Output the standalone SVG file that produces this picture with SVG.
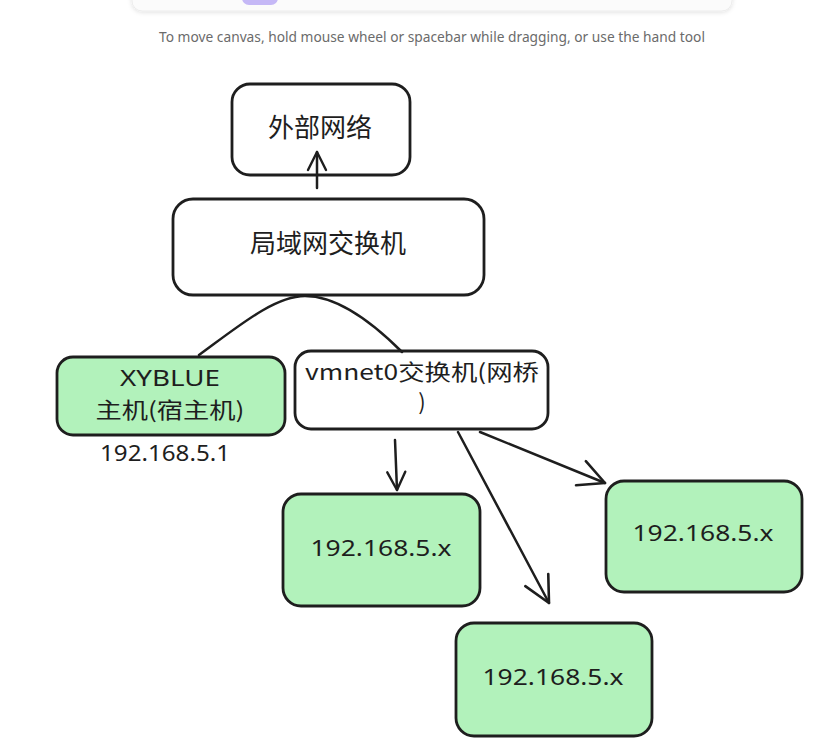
<svg xmlns="http://www.w3.org/2000/svg" width="832" height="741" viewBox="0 0 832 741">
  <defs>
    <filter id="toolbarShadow" x="-10%" y="-100%" width="120%" height="300%">
      <feDropShadow dx="0" dy="1" stdDeviation="2" flood-color="#000" flood-opacity="0.12"/>
    </filter>
    <marker id="arrowOpen" viewBox="0 0 22 22" refX="20" refY="11" markerWidth="22" markerHeight="22" markerUnits="userSpaceOnUse" orient="auto">
      <path d="M2,2 L20,11 L2,20" fill="none" stroke="#1e1e1e" stroke-width="2.4" stroke-linecap="round" stroke-linejoin="round"/>
    </marker>
    <marker id="arrowOpenLg" viewBox="0 0 30 30" refX="28" refY="15" markerWidth="30" markerHeight="30" markerUnits="userSpaceOnUse" orient="auto">
      <path d="M2,2 L28,15 L2,28" fill="none" stroke="#1e1e1e" stroke-width="2.6" stroke-linecap="round" stroke-linejoin="round"/>
    </marker>
  </defs>
  <style>
    .node { stroke: #1e1e1e; stroke-width: 2.8; }
    .plain { fill: #ffffff; }
    .green { fill: #b2f2bb; }
    .label { font-family: "Noto Sans", "Noto Sans CJK SC", sans-serif; fill: #1e1e1e; text-anchor: middle; }
    .cjk { font-family: "Noto Sans CJK SC", "Noto Sans", sans-serif; fill: #1e1e1e; text-anchor: middle; }
    .edge { fill: none; stroke: #1e1e1e; stroke-width: 2.5; stroke-linecap: round; }
    .hint { font-family: "Noto Sans", "Liberation Sans", sans-serif; font-size: 13.5px; fill: #6b6b6b; text-anchor: middle; }
  </style>

  <rect width="832" height="741" fill="#ffffff"/>

  <!-- editor toolbar and canvas hint -->
  <g id="toolbar">
    <rect x="132" y="-20" width="600" height="31" rx="10" fill="#fbfbfb" stroke="#ececec" stroke-width="1" filter="url(#toolbarShadow)"/>
    <rect x="242" y="-12" width="36" height="17" rx="7" fill="#c5b8f6"/>
  </g>
  <text class="hint" x="432" y="42" textLength="546" lengthAdjust="spacingAndGlyphs">To move canvas, hold mouse wheel or spacebar while dragging, or use the hand tool</text>

  <!-- nodes -->
  <g id="external-network">
    <rect class="node plain" x="232" y="84" width="178" height="91" rx="18"/>
    <text class="cjk" x="320" y="137" font-size="26">外部网络</text>
  </g>

  <g id="lan-switch">
    <rect class="node plain" x="173" y="199" width="311" height="96" rx="20"/>
    <text class="cjk" x="328" y="253" font-size="26">局域网交换机</text>
  </g>

  <g id="host-xyblue">
    <rect class="node green" x="57" y="357" width="228" height="78" rx="16"/>
    <text class="label" x="170" y="386" font-size="21" textLength="100" lengthAdjust="spacingAndGlyphs">XYBLUE</text>
    <text class="cjk" x="170" y="418" font-size="22" textLength="149" lengthAdjust="spacingAndGlyphs">主机(宿主机)</text>
    <text class="label" x="165" y="461" font-size="21" textLength="130" lengthAdjust="spacingAndGlyphs">192.168.5.1</text>
  </g>

  <g id="vmnet0-bridge">
    <rect class="node plain" x="295" y="351" width="253" height="78" rx="16"/>
    <text class="cjk" x="422" y="380" font-size="22" textLength="234" lengthAdjust="spacingAndGlyphs">vmnet0交换机(网桥</text>
    <text class="cjk" x="422" y="410" font-size="22">)</text>
  </g>

  <g id="guest-a">
    <rect class="node green" x="283" y="494" width="197" height="112" rx="18"/>
    <text class="label" x="381" y="556" font-size="21" textLength="141" lengthAdjust="spacingAndGlyphs">192.168.5.x</text>
  </g>

  <g id="guest-b">
    <rect class="node green" x="456" y="623" width="196" height="113" rx="18"/>
    <text class="label" x="553" y="685" font-size="21" textLength="141" lengthAdjust="spacingAndGlyphs">192.168.5.x</text>
  </g>

  <g id="guest-c">
    <rect class="node green" x="606" y="481" width="196" height="111" rx="18"/>
    <text class="label" x="703" y="541" font-size="21" textLength="141" lengthAdjust="spacingAndGlyphs">192.168.5.x</text>
  </g>

  <!-- connectors (drawn last so the uplink arrow overlaps the box edge) -->
  <g id="connectors">
    <path class="edge" d="M317,188 L317,152" marker-end="url(#arrowOpen)"/>
    <path class="edge" d="M199,355 C240,325 275,296 305,296 C335,296 370,320 402,352"/>
    <path class="edge" d="M395,440 L397,490" marker-end="url(#arrowOpen)"/>
    <path class="edge" d="M458,432 L549,603" marker-end="url(#arrowOpenLg)" stroke-width="3"/>
    <path class="edge" d="M480,432 L605,483" marker-end="url(#arrowOpenLg)"/>
  </g>
</svg>
